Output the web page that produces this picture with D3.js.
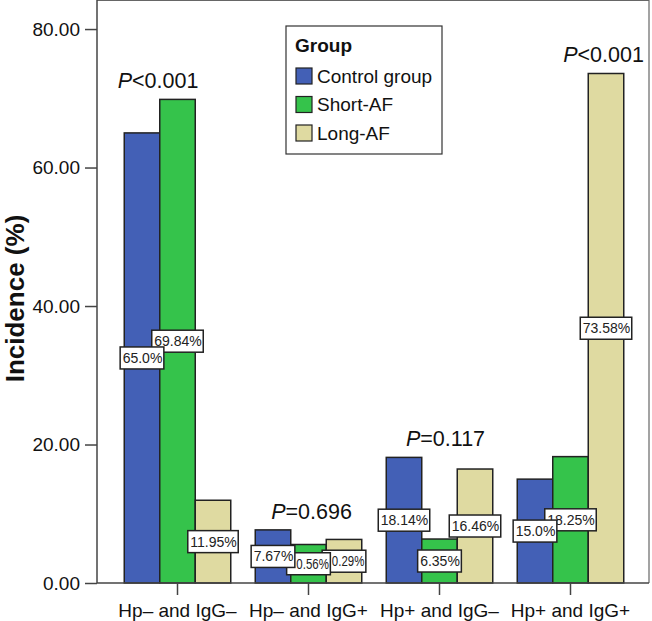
<!DOCTYPE html>
<html>
<head>
<meta charset="utf-8">
<script src="https://cdn.jsdelivr.net/npm/d3@7/dist/d3.min.js"></script>
<style>
  html, body { margin: 0; padding: 0; background: #fff; }
  svg { display: block; font-family: Arial, "Liberation Sans", sans-serif; }
</style>
</head>
<body>
<svg id="chart" width="652" height="621"></svg>
<script>
// ---------- DATA ----------
const categories = ["Hp\u2013 and IgG\u2013", "Hp\u2013 and IgG+", "Hp+ and IgG\u2013", "Hp+ and IgG+"];
const seriesNames = ["Control group", "Short-AF", "Long-AF"];
const controlValues = [65.0, 7.67, 18.14, 15.0];
const shortAFValues = [69.84, 5.56, 6.35, 18.25];
const longAFValues = [11.95, 6.29, 16.46, 73.58];
const controlLabels = ["65.0%", "7.67%", "18.14%", "15.0%"];
const shortAFLabels = ["69.84%", "0.56%", "6.35%", "18.25%"];
const longAFLabels = ["11.95%", "0.29%", "16.46%", "73.58%"];
const pSymbols = ["<", "=", "=", "<"];
const pValues = ["0.001", "0.696", "0.117", "0.001"];
const yTicks = [0, 20, 40, 60, 80];
const yTickLabels = ["0.00", "20.00", "40.00", "60.00", "80.00"];
const legendTitle = "Group";
const yTitle = "Incidence (%)";

// ---------- LAYOUT ----------
const colors = ["#4360b6", "#35c34b", "#dfdaa1"];
const pLabelOffsets = [-19.5, 3, 6, 33];
const fitAfterOverlapGroups = new Set([1]);
const plotLeft = 97, plotRight = 649, plotTop = 1, plotBottom = 583;

const svg = d3.select("#chart");

const seriesValues = [controlValues, shortAFValues, longAFValues];
const seriesLabels = [controlLabels, shortAFLabels, longAFLabels];

const y = d3.scaleLinear().domain([0, 84.05]).range([plotBottom, plotTop]);
const x0 = d3.scaleBand().domain(categories).range([112, 636]).padding(0);
const groupW = 106.5;
const x1 = d3.scaleBand().domain(seriesNames).range([0, groupW]).padding(0);
const gOff = (x0.bandwidth() - groupW) / 2;

// Frame (top and right)
svg.append("line").attr("x1", plotLeft).attr("x2", plotRight).attr("y1", 0.5).attr("y2", 0.5)
  .attr("stroke", "#666").attr("stroke-width", 1.2);
svg.append("line").attr("x1", plotRight).attr("x2", plotRight).attr("y1", 0).attr("y2", plotBottom)
  .attr("stroke", "#666").attr("stroke-width", 1.2);

// Bars
const records = [];
categories.forEach((c, i) => {
  seriesNames.forEach((s, j) => {
    records.push({ cat: c, ci: i, series: s, si: j, value: seriesValues[j][i], label: seriesLabels[j][i] });
  });
});

svg.append("g").selectAll("rect").data(records).join("rect")
  .attr("x", d => x0(d.cat) + gOff + x1(d.series))
  .attr("y", d => y(d.value))
  .attr("width", x1.bandwidth())
  .attr("height", d => y(0) - y(d.value))
  .attr("fill", d => colors[d.si])
  .attr("stroke", "#222")
  .attr("stroke-width", 1.5);

// Axes
const yAxis = d3.axisLeft(y).tickValues(yTicks).tickFormat((d, i) => yTickLabels[i]).tickSize(12).tickPadding(5);
const gy = svg.append("g").attr("transform", `translate(${plotLeft},0)`).call(yAxis);
gy.select(".domain").remove();
svg.append("line").attr("x1", plotLeft).attr("x2", plotLeft).attr("y1", 0).attr("y2", plotBottom)
  .attr("stroke", "#444").attr("stroke-width", 1.5);
gy.selectAll(".tick line").attr("stroke", "#444").attr("stroke-width", 1.5);
gy.selectAll(".tick text").attr("font-size", 19).attr("fill", "#111");

const xAxis = d3.axisBottom(x0).tickSize(12).tickPadding(9);
const gx = svg.append("g").attr("transform", `translate(0,${plotBottom})`).call(xAxis);
gx.select(".domain").remove();
svg.append("line").attr("x1", plotLeft).attr("x2", plotRight).attr("y1", plotBottom).attr("y2", plotBottom)
  .attr("stroke", "#444").attr("stroke-width", 1.5);
gx.selectAll(".tick line").attr("stroke", "#444").attr("stroke-width", 1.5);
gx.selectAll(".tick text").attr("font-size", 19).attr("fill", "#111");

// Y title
svg.append("text")
  .attr("transform", `translate(24,${298.5}) rotate(-90)`)
  .attr("text-anchor", "middle")
  .attr("font-size", 26).attr("font-weight", "bold").attr("fill", "#111")
  .text(yTitle);

// Value label boxes: compute geometry first
const boxH = 22;
const boxes = records.map(d => {
  const cx = x0(d.cat) + gOff + x1(d.series) + x1.bandwidth() / 2;
  const cy = y(d.value / 2);
  const tmp = svg.append("text").attr("font-size", 14).text(d.label);
  const tw = tmp.node().getComputedTextLength();
  tmp.remove();
  const w = Math.max(tw + 4, 41);
  return { ...d, cx, cy, tw, w, left: cx - w / 2, right: cx + w / 2 };
});
const boxOf = (ci, si) => boxes.find(b => b.ci === ci && b.si === si);

// draw later series first so earlier series' boxes sit on top
const lg = svg.append("g");
boxes.slice().sort((a, b) => (b.si - a.si) || (a.ci - b.ci)).forEach(b => {
  const g = lg.append("g");
  g.append("rect").attr("x", b.left).attr("y", b.cy - boxH / 2)
    .attr("width", b.w).attr("height", boxH).attr("fill", "#fff").attr("stroke", "#222").attr("stroke-width", 1.5);
  const t = g.append("text").attr("y", b.cy).attr("dy", "0.36em")
    .attr("font-size", 14).attr("fill", "#222").text(b.label);
  const prev = b.si > 0 ? boxOf(b.ci, b.si - 1) : null;
  if (prev && fitAfterOverlapGroups.has(b.ci) && prev.right > b.left) {
    const start = prev.right + 1.5;
    const len = b.right - 1.5 - start;
    t.attr("x", start).attr("text-anchor", "start")
      .attr("textLength", len).attr("lengthAdjust", "spacingAndGlyphs");
  } else {
    t.attr("x", b.right - 1.5).attr("text-anchor", "end");
  }
});

// P labels
categories.forEach((c, i) => {
  const maxV = d3.max(seriesValues, s => s[i]);
  const cx = x0(c) + x0.bandwidth() / 2 + pLabelOffsets[i];
  const t = svg.append("text").attr("x", cx).attr("y", y(maxV) - 11)
    .attr("text-anchor", "middle").attr("font-size", 21.5).attr("fill", "#111");
  t.append("tspan").attr("font-style", "italic").text("P");
  t.append("tspan").text(pSymbols[i] + pValues[i]);
});

// Legend
const leg = svg.append("g").attr("transform", "translate(286,26)");
leg.append("rect").attr("x", 0).attr("y", 0).attr("width", 156).attr("height", 128)
  .attr("fill", "#fff").attr("stroke", "#333").attr("stroke-width", 1.2);
leg.append("text").attr("x", 9).attr("y", 25.5).attr("font-size", 19).attr("font-weight", "bold")
  .attr("fill", "#111").text(legendTitle);
seriesNames.forEach((s, j) => {
  const cy = 50 + j * 28.5;
  leg.append("rect").attr("x", 10).attr("y", cy - 8).attr("width", 16).attr("height", 16)
    .attr("fill", colors[j]).attr("stroke", "#222").attr("stroke-width", 1.2);
  leg.append("text").attr("x", 31).attr("y", cy).attr("dy", "0.36em").attr("font-size", 19)
    .attr("fill", "#111").text(s);
});
</script>
</body>
</html>
